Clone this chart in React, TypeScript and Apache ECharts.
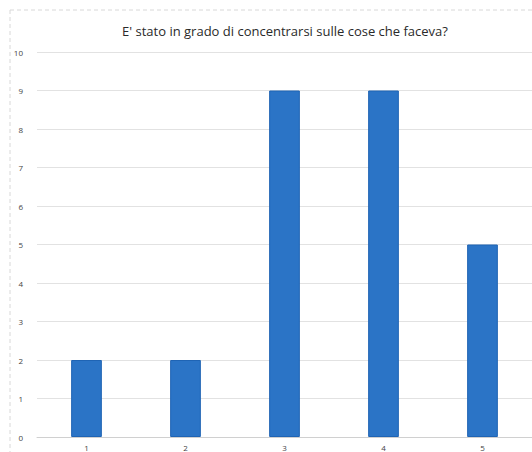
import React, { useEffect, useRef } from "react";
import * as echarts from "echarts";

const titleText = "E' stato in grado di concentrarsi sulle cose che faceva?";
const categories = ["1", "2", "3", "4", "5"];
const values = [2, 2, 9, 9, 5];

export default function App() {
  const ref = useRef<HTMLDivElement>(null);
  useEffect(() => {
    if (!ref.current) return;
    const chart = echarts.init(ref.current, undefined, { renderer: "svg" });
    chart.setOption({
      animation: false,
      backgroundColor: "#ffffff",
      title: {
        text: titleText,
        left: 280,
        textAlign: "center",
        top: 19,
        textStyle: {
          fontFamily: "Open Sans",
          fontSize: 13,
          fontWeight: "normal",
          color: "#2a2a2a",
        },
      },
      graphic: [
        {
          type: "line",
          shape: { x1: 10, y1: 10, x2: 532, y2: 10 },
          style: { stroke: "#d8d8d8", lineWidth: 1, lineDash: [4, 3] },
        },
        {
          type: "line",
          shape: { x1: 10, y1: 10, x2: 10, y2: 452 },
          style: { stroke: "#d8d8d8", lineWidth: 1, lineDash: [4, 3] },
        },
      ],
      grid: { left: 37, right: 0, top: 52, bottom: 15, containLabel: false },
      xAxis: {
        type: "category",
        data: categories,
        axisLine: { show: true, lineStyle: { color: "#d0d0d0" } },
        axisTick: { show: false },
        axisLabel: { fontSize: 8, color: "#444", margin: 6, fontFamily: "Open Sans" },
      },
      yAxis: {
        type: "value",
        min: 0,
        max: 10,
        interval: 1,
        axisLine: { show: false },
        axisTick: { show: false },
        axisLabel: { fontSize: 8, color: "#444", margin: 14, fontFamily: "Open Sans" },
        splitLine: { lineStyle: { color: "#e2e2e2", width: 1 } },
      },
      series: [
        {
          type: "bar",
          data: values,
          barWidth: "31%",
          itemStyle: { color: "#2b74c6", borderColor: "#1f64b4", borderWidth: 1 },
        },
      ],
    });
    return () => chart.dispose();
  }, []);
  return (
    <div
      ref={ref}
      style={{ position: "fixed", left: 0, top: 0, width: 532, height: 452 }}
    />
  );
}
